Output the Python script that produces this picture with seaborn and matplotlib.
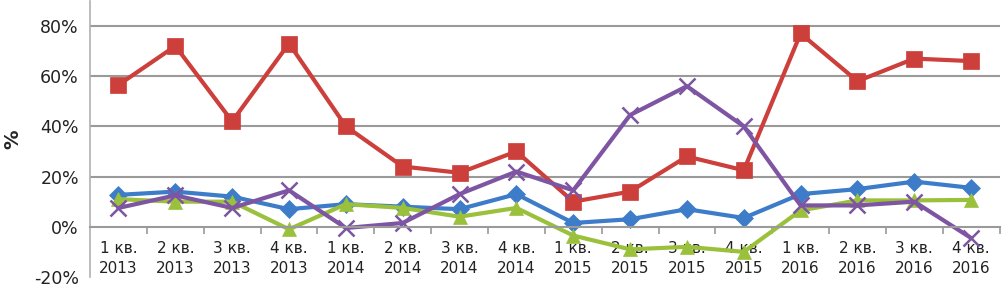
import matplotlib
matplotlib.use("Agg")
import matplotlib.pyplot as plt
import seaborn as sns
import pandas as pd
from matplotlib.ticker import FixedLocator, FuncFormatter

quarters = ["1 кв.", "2 кв.", "3 кв.", "4 кв."] * 4
years = ["2013"] * 4 + ["2014"] * 4 + ["2015"] * 4 + ["2016"] * 4
tick_labels = [f"{q}\n{y}" for q, y in zip(quarters, years)]

blue = [12.7, 14, 12, 7, 9, 8, 7, 13, 1.5, 3, 7, 3.5, 13, 15, 18, 15.5]
red = [56.5, 72, 42, 73, 40, 24, 21.5, 30, 10, 14, 28, 22.5, 77, 58, 67, 66]
green = [11, 10, 10, -1, 9, 7.5, 4, 7.5, -3.5, -9, -8, -10, 6.5, 10.5, 10.5, 10.7]
purple = [7.5, 12.5, 7.5, 14.5, -0.5, 1.5, 13, 22, 14.5, 44.5, 56, 40, 8.5, 8.5, 10, -4.5]

series = [
    ("blue", blue, "#3d7cc9", "D", 9),
    ("red", red, "#cc3f3a", "s", 11),
    ("green", green, "#9bc13c", "^", 10),
    ("purple", purple, "#7d55a3", "x", 11),
]

sns.set_style("white")
plt.rcParams["font.family"] = ["DejaVu Sans"]

fig = plt.figure(figsize=(10.05, 2.87), dpi=100)
ax = fig.add_axes([0.0896, 0.035, 0.905, 0.962])

idx = list(range(len(tick_labels)))
for name, vals, color, marker, ms in series:
    df = pd.DataFrame({"x": idx, "y": vals})
    sns.lineplot(data=df, x="x", y="y", ax=ax, color=color, linewidth=3.0,
                 marker=marker, markersize=ms, markeredgecolor=color,
                 markeredgewidth=1.8 if marker == "x" else 0.5, legend=False)

ax.set_ylim(-20, 90)
ax.set_xlim(-0.5, 15.5)
ax.set_yticks([-20, 0, 20, 40, 60, 80])
ax.yaxis.set_major_formatter(FuncFormatter(lambda v, p: f"{v:.0f}%"))
for g in [20, 40, 60, 80]:
    ax.axhline(g, color="#9a9a9a", linewidth=1.5, zorder=0)

ax.spines["top"].set_visible(False)
ax.spines["right"].set_visible(False)
ax.spines["left"].set_color("#b0b0b0")
ax.spines["left"].set_linewidth(1.2)
ax.spines["bottom"].set_position(("data", 0))
ax.spines["bottom"].set_color("#9a9a9a")
ax.spines["bottom"].set_linewidth(1.5)

ax.xaxis.set_major_locator(FixedLocator([i + 0.5 for i in idx]))
ax.xaxis.set_major_formatter(FuncFormatter(lambda v, p: ""))
ax.xaxis.set_minor_locator(FixedLocator(idx))
ax.set_xticklabels(tick_labels, minor=True)
ax.tick_params(axis="x", which="major", direction="out", length=5, width=1.2,
               color="#9a9a9a", bottom=True)
ax.tick_params(axis="x", which="minor", length=0, pad=10, labelsize=11,
               labelcolor="#222222")
for lab in ax.get_xticklabels(minor=True):
    lab.set_linespacing(1.45)
ax.tick_params(axis="y", length=0, labelsize=12.5, labelcolor="#222222", pad=8)

ax.set_xlabel("")
ax.set_ylabel("%", fontsize=14, fontweight="bold", labelpad=8)

fig.savefig("out.png", dpi=100)
